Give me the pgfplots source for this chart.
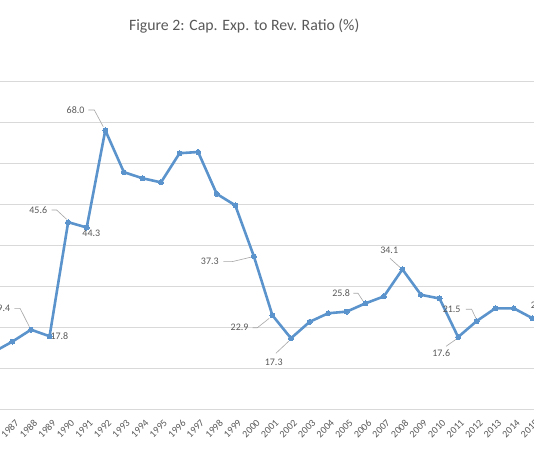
\documentclass[border=0pt]{standalone}
\usepackage{pgfplots}
\pgfplotsset{compat=1.18}
\usepackage{fontspec}
\setmainfont{Carlito}
\definecolor{lineblue}{RGB}{91,148,204}
\definecolor{gridgray}{RGB}{217,217,217}
\definecolor{txtgray}{RGB}{89,89,89}
\definecolor{leadgray}{RGB}{166,166,166}
\begin{document}
\begin{tikzpicture}
\useasboundingbox (0pt,0pt) rectangle (534pt,462pt);
\clip (0pt,0pt) rectangle (534pt,462pt);
\fill[white] (0pt,0pt) rectangle (534pt,462pt);
\node[font=\fontsize{15.8}{18}\selectfont, text=txtgray] at (244.2pt,436pt) {Figure 2: Cap. Exp. to Rev. Ratio (\%)};
\begin{axis}[
  at={(-24.71pt,52.7pt)}, anchor=south west,
  scale only axis, width=594.24pt, height=328.3pt,
  xmin=1985, xmax=2017, ymin=0, ymax=80,
  axis line style={draw=none},
  ymajorgrids, grid style={gridgray, line width=0.8pt},
  major tick length=0pt,
  xtick={1985,...,2017},
  ytick={0,10,...,80}, yticklabels={},
  /pgf/number format/1000 sep={},
  /pgf/number format/assume math mode=true,
  xticklabel style={rotate=45, anchor=north east, xshift=-2pt, yshift=-5pt, font=\fontsize{10}{12}\selectfont, text=txtgray},
]
\addplot[lineblue, line width=2.6pt, line join=round, mark=*, mark size=2.5pt, mark options={solid, fill=lineblue, draw=lineblue, line width=0pt}] coordinates {
(1985,12.5) (1986,14.0) (1987,16.5) (1988,19.4) (1989,17.8) (1990,45.6) (1991,44.3) (1992,68.0)
(1993,57.8) (1994,56.3) (1995,55.3) (1996,62.4) (1997,62.7) (1998,52.5) (1999,49.7)
(2000,37.3) (2001,22.9) (2002,17.3) (2003,21.3) (2004,23.4) (2005,23.8) (2006,25.8)
(2007,27.5) (2008,34.1) (2009,27.9) (2010,27.0) (2011,17.6) (2012,21.5) (2013,24.6)
(2014,24.6) (2015,22.2) (2016,22.5) (2017,23.0)
};
\tikzset{lab/.style={font=\fontsize{10}{12}\selectfont, text=txtgray, inner sep=0pt}, lead/.style={leadgray, line width=0.6pt}}
\node[lab] at (axis cs:1990.40,72.93) {68.0};
\draw[lead] (axis cs:1991.09,72.93) -- (axis cs:1991.41,72.93) -- (axis cs:1991.89,68.86);
\node[lab] at (axis cs:1988.39,48.56) {45.6};
\draw[lead] (axis cs:1989.11,48.56) -- (axis cs:1989.38,48.56) -- (axis cs:1989.92,46.30);
\node[lab] at (axis cs:1991.25,42.88) {44.3};
\node[lab] at (axis cs:1986.40,24.61) {19.4};
\draw[lead] (axis cs:1987.10,24.61) -- (axis cs:1987.41,24.61) -- (axis cs:1987.91,20.13);
\node[lab] at (axis cs:1989.53,17.86) {17.8};
\node[lab] at (axis cs:1997.63,35.97) {37.3};
\draw[lead] (axis cs:1998.36,35.97) -- (axis cs:1998.82,35.97) -- (axis cs:1999.88,37.11);
\node[lab] at (axis cs:1999.23,19.88) {22.9};
\draw[lead] (axis cs:1999.94,19.88) -- (axis cs:2000.19,19.88) -- (axis cs:2000.83,22.17);
\node[lab] at (axis cs:2001.07,11.35) {17.3};
\draw[lead] (axis cs:2001.19,13.65) -- (axis cs:2001.89,16.64);
\node[lab] at (axis cs:2004.70,28.27) {25.8};
\draw[lead] (axis cs:2005.36,28.27) -- (axis cs:2005.61,28.27) -- (axis cs:2005.88,26.39);
\node[lab] at (axis cs:2007.29,38.65) {34.1};
\draw[lead] (axis cs:2007.33,36.79) -- (axis cs:2007.87,34.60);
\node[lab] at (axis cs:2010.65,24.37) {21.5};
\draw[lead] (axis cs:2011.42,24.37) -- (axis cs:2011.73,24.37) -- (axis cs:2011.96,22.17);
\node[lab] at (axis cs:2010.09,13.65) {17.6};
\draw[lead] (axis cs:2010.35,15.35) -- (axis cs:2010.89,17.06);
\node[lab] at (axis cs:2015.40,25.41) {22.5};
\end{axis}
\end{tikzpicture}
\end{document}
